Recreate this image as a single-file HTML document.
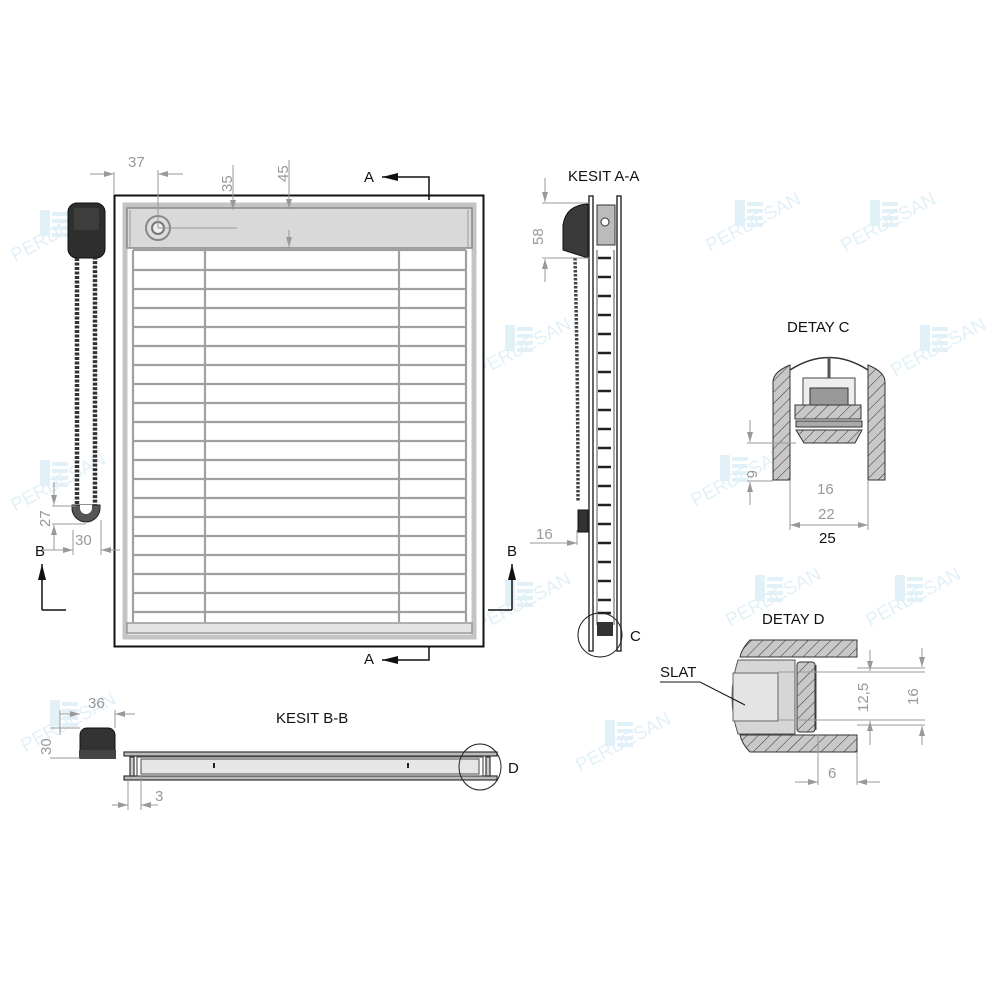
<!DOCTYPE html>
<html><head><meta charset="utf-8"><style>
html,body{margin:0;padding:0;background:#fff}
svg{display:block}
text{font-family:"Liberation Sans",sans-serif}
</style></head><body>
<svg width="1000" height="1000" viewBox="0 0 1000 1000" xmlns="http://www.w3.org/2000/svg">
<defs>
<pattern id="h" width="8" height="8" patternUnits="userSpaceOnUse" patternTransform="rotate(45)">
<rect width="8" height="8" fill="#c8c8c8"/><line x1="0" y1="0" x2="0" y2="8" stroke="#333" stroke-width="1"/>
</pattern>
<g id="wm" fill="#e2f1f7">
<rect x="0" y="0" width="10" height="26"/><rect x="12" y="2" width="16" height="4"/><rect x="12" y="9" width="16" height="4"/><rect x="12" y="16" width="16" height="4"/><rect x="12" y="23" width="16" height="4"/>
<text x="-25" y="52" font-family="Liberation Serif,serif" font-size="19" transform="rotate(-28 -25 52)">PERDESAN</text>
</g>
<marker id="ar" viewBox="0 0 10 6" refX="10" refY="3" markerWidth="10" markerHeight="6" orient="auto-start-reverse" markerUnits="userSpaceOnUse"><path d="M0,0L10,3L0,6z" fill="#999"/></marker>
<marker id="ab" viewBox="0 0 16 8" refX="16" refY="4" markerWidth="16" markerHeight="8" orient="auto" markerUnits="userSpaceOnUse"><path d="M0,4L16,0L16,8z" fill="#111" transform="rotate(180 8 4)"/></marker>
</defs>

<!-- watermarks -->
<use href="#wm" x="735" y="200"/><use href="#wm" x="870" y="200"/>
<use href="#wm" x="505" y="325"/><use href="#wm" x="920" y="325"/>
<use href="#wm" x="720" y="455"/><use href="#wm" x="505" y="580"/>
<use href="#wm" x="755" y="575"/><use href="#wm" x="895" y="575"/>
<use href="#wm" x="605" y="720"/><use href="#wm" x="50" y="700"/>
<use href="#wm" x="40" y="210"/><use href="#wm" x="40" y="460"/>

<!-- MAIN FRONT VIEW -->
<rect x="114.5" y="195.5" width="369" height="451" fill="#fff" stroke="#111" stroke-width="2"/>
<rect x="125" y="205" width="349" height="432" fill="none" stroke="#c4c4c4" stroke-width="5"/>
<rect x="127" y="208" width="345" height="40" fill="#d9d9d9" stroke="#888" stroke-width="1.5"/>
<line x1="130" y1="210" x2="130" y2="247" stroke="#999"/><line x1="468" y1="210" x2="468" y2="247" stroke="#999"/>
<circle cx="158" cy="228" r="12" fill="#ddd" stroke="#888" stroke-width="2"/><circle cx="158" cy="228" r="6" fill="#eee" stroke="#777" stroke-width="2"/>
<g stroke="#a0a0a0" stroke-width="2.2" fill="none">
<line x1="133" y1="250" x2="133" y2="622"/><line x1="466" y1="250" x2="466" y2="622"/>
<line x1="205" y1="250" x2="205" y2="622"/><line x1="399" y1="250" x2="399" y2="622"/>
<line x1="133" y1="250" x2="466" y2="250"/><line x1="133" y1="270" x2="466" y2="270"/><line x1="133" y1="289" x2="466" y2="289"/><line x1="133" y1="308" x2="466" y2="308"/><line x1="133" y1="327" x2="466" y2="327"/><line x1="133" y1="346" x2="466" y2="346"/><line x1="133" y1="365" x2="466" y2="365"/><line x1="133" y1="384" x2="466" y2="384"/><line x1="133" y1="403" x2="466" y2="403"/><line x1="133" y1="422" x2="466" y2="422"/><line x1="133" y1="441" x2="466" y2="441"/><line x1="133" y1="460" x2="466" y2="460"/><line x1="133" y1="479" x2="466" y2="479"/><line x1="133" y1="498" x2="466" y2="498"/><line x1="133" y1="517" x2="466" y2="517"/><line x1="133" y1="536" x2="466" y2="536"/><line x1="133" y1="555" x2="466" y2="555"/><line x1="133" y1="574" x2="466" y2="574"/><line x1="133" y1="593" x2="466" y2="593"/><line x1="133" y1="612" x2="466" y2="612"/>
</g>
<rect x="127" y="623" width="345" height="10" fill="#e4e4e4" stroke="#999" stroke-width="1.5"/>

<!-- dims top -->
<g stroke="#999" stroke-width="1" fill="none">
<line x1="114" y1="172" x2="114" y2="195"/><line x1="158" y1="170" x2="158" y2="228"/>
<line x1="90" y1="174" x2="114" y2="174" marker-end="url(#ar)"/><line x1="183" y1="174" x2="158" y2="174" marker-end="url(#ar)"/>
<line x1="158" y1="228" x2="237" y2="228"/>
<line x1="233" y1="165" x2="233" y2="210" marker-end="url(#ar)"/>
<line x1="289" y1="160" x2="289" y2="209" marker-end="url(#ar)"/><line x1="289" y1="230" x2="289" y2="247" marker-end="url(#ar)"/>
</g>
<g fill="#999" font-size="15"><text x="128" y="167">37</text>
<text transform="translate(232 192) rotate(-90)">35</text><text transform="translate(288 182) rotate(-90)">45</text></g>

<!-- section arrows -->
<g stroke="#111" stroke-width="1.5" fill="none">
<path d="M429 200 V177 H382" marker-end="url(#ab)"/>
<path d="M429 647 V660 H382" marker-end="url(#ab)"/>
<path d="M42 610 H66"/><line x1="42" y1="610" x2="42" y2="564" marker-end="url(#ab)"/>
<path d="M512 610 H488"/><line x1="512" y1="610" x2="512" y2="564" marker-end="url(#ab)"/>
</g>
<g font-size="15" fill="#111"><text x="364" y="182">A</text><text x="364" y="664">A</text><text x="35" y="556">B</text><text x="507" y="556">B</text></g>

<!-- chain control -->
<rect x="68" y="203" width="37" height="55" rx="9" fill="#2e2e2e" stroke="#111"/>
<rect x="74" y="208" width="25" height="22" fill="#3d3d3d"/>
<g stroke="#333" stroke-width="4.5" stroke-dasharray="3 1.5" fill="none">
<path d="M77 258 V508 A9 9 0 0 0 95 508 V258"/>
</g>
<path d="M72 505 H100 V508 A14 14 0 0 1 72 508 Z" fill="#555" stroke="#222"/>
<path d="M80 505 H92 V508 A6 6 0 0 1 80 508Z" fill="#fff"/>
<g stroke="#999" stroke-width="1" fill="none">
<line x1="52" y1="506" x2="76" y2="506"/><line x1="52" y1="524" x2="86" y2="524"/>
<line x1="54" y1="482" x2="54" y2="505" marker-end="url(#ar)"/><line x1="54" y1="550" x2="54" y2="525" marker-end="url(#ar)"/>
<line x1="62" y1="550" x2="73" y2="550" marker-end="url(#ar)"/><line x1="120" y1="550" x2="101" y2="550" marker-end="url(#ar)"/>
<line x1="73" y1="530" x2="73" y2="555"/><line x1="101" y1="520" x2="101" y2="555"/><line x1="42" y1="550" x2="62" y2="550"/>
</g>
<g fill="#999" font-size="15"><text transform="translate(50 527) rotate(-90)">27</text><text x="75" y="545">30</text></g>

<!-- KESIT A-A -->
<text x="568" y="181" font-size="15" fill="#111">KESIT A-A</text>
<g stroke="#333" stroke-width="1.5" fill="#fff">
<rect x="589" y="196" width="4" height="455"/><rect x="617" y="196" width="4" height="455"/>
</g>
<rect x="597" y="205" width="18" height="40" fill="#bbb" stroke="#333"/>
<circle cx="605" cy="222" r="4" fill="#fff" stroke="#333"/>
<line x1="597" y1="250" x2="597" y2="625" stroke="#555"/><line x1="614" y1="250" x2="614" y2="625" stroke="#555"/>
<g stroke="#222" stroke-width="2.5">
<line x1="598" y1="258" x2="611" y2="258"/><line x1="598" y1="277" x2="611" y2="277"/><line x1="598" y1="296" x2="611" y2="296"/><line x1="598" y1="315" x2="611" y2="315"/><line x1="598" y1="334" x2="611" y2="334"/><line x1="598" y1="353" x2="611" y2="353"/><line x1="598" y1="372" x2="611" y2="372"/><line x1="598" y1="391" x2="611" y2="391"/><line x1="598" y1="410" x2="611" y2="410"/><line x1="598" y1="429" x2="611" y2="429"/><line x1="598" y1="448" x2="611" y2="448"/><line x1="598" y1="467" x2="611" y2="467"/><line x1="598" y1="486" x2="611" y2="486"/><line x1="598" y1="505" x2="611" y2="505"/><line x1="598" y1="524" x2="611" y2="524"/><line x1="598" y1="543" x2="611" y2="543"/><line x1="598" y1="562" x2="611" y2="562"/><line x1="598" y1="581" x2="611" y2="581"/><line x1="598" y1="600" x2="611" y2="600"/><line x1="598" y1="613" x2="611" y2="613"/>
</g>
<rect x="597" y="622" width="16" height="14" fill="#333"/>
<path d="M588 204 Q566 205 563 225 V250 L588 258 Z" fill="#3a3a3a" stroke="#111"/>
<path d="M575 258 Q578 380 578 502" stroke="#444" stroke-width="3.5" stroke-dasharray="2.5 1.5" fill="none"/>
<rect x="578" y="510" width="10" height="22" fill="#333" stroke="#111"/>
<circle cx="600" cy="635" r="22" fill="none" stroke="#222"/>
<text x="630" y="641" font-size="15" fill="#111">C</text>
<g stroke="#999" stroke-width="1" fill="none">
<line x1="542" y1="203" x2="590" y2="203"/><line x1="542" y1="258" x2="590" y2="258"/>
<line x1="545" y1="178" x2="545" y2="202" marker-end="url(#ar)"/><line x1="545" y1="282" x2="545" y2="259" marker-end="url(#ar)"/>
<line x1="530" y1="543" x2="577" y2="543" marker-end="url(#ar)"/><line x1="577" y1="530" x2="577" y2="545"/>
</g>
<g fill="#999" font-size="15"><text transform="translate(543 245) rotate(-90)">58</text><text x="536" y="539">16</text></g>

<!-- DETAY C -->
<text x="787" y="332" font-size="15" fill="#111">DETAY C</text>
<path d="M790 370 Q829 345 868 370" fill="none" stroke="#333" stroke-width="1.5"/>
<path d="M773 382 Q773 372 790 365 V480 H773 Z" fill="url(#h)" stroke="#333"/>
<path d="M885 382 Q885 372 868 365 V480 H885 Z" fill="url(#h)" stroke="#333"/>
<line x1="829" y1="357" x2="829" y2="415" stroke="#555" stroke-width="3"/>
<rect x="803" y="378" width="52" height="40" fill="#eee" stroke="#444"/>
<rect x="810" y="388" width="38" height="25" fill="#999" stroke="#333"/>
<rect x="795" y="405" width="66" height="14" fill="url(#h)" stroke="#333"/>
<rect x="796" y="421" width="66" height="6" fill="#aaa" stroke="#333"/>
<path d="M796 430 H862 L855 443 H804 Z" fill="url(#h)" stroke="#333"/>
<g stroke="#999" stroke-width="1" fill="none">
<line x1="747" y1="443" x2="796" y2="443"/><line x1="747" y1="481" x2="773" y2="481"/>
<line x1="750" y1="420" x2="750" y2="442" marker-end="url(#ar)"/><line x1="750" y1="505" x2="750" y2="482" marker-end="url(#ar)"/>
<line x1="790" y1="480" x2="790" y2="530"/><line x1="868" y1="480" x2="868" y2="530"/>
<line x1="829" y1="525" x2="790" y2="525" marker-end="url(#ar)"/><line x1="829" y1="525" x2="868" y2="525" marker-end="url(#ar)"/>
</g>
<g fill="#999" font-size="15"><text transform="translate(747 470) rotate(90)">6</text><text x="817" y="494">16</text><text x="818" y="519">22</text></g>
<text x="819" y="543" font-size="15" fill="#111">25</text>

<!-- DETAY D -->
<text x="762" y="624" font-size="15" fill="#111">DETAY D</text>
<path d="M750 640 H857 V657 H740 Q742 648 750 640Z" fill="url(#h)" stroke="#333"/>
<path d="M740 735 H857 V752 H750 Q742 744 740 735Z" fill="url(#h)" stroke="#333"/>
<path d="M738 660 H795 V734 H738 Q726 697 738 660Z" fill="#d6d6d6" stroke="#555"/>
<rect x="733" y="673" width="45" height="48" fill="#e4e4e4" stroke="#666"/>
<rect x="797" y="662" width="18" height="70" rx="3" fill="url(#h)" stroke="#333"/>
<line x1="816" y1="665" x2="816" y2="730" stroke="#444"/>
<text x="660" y="677" font-size="15" fill="#111">SLAT</text>
<path d="M660 682 H700 L745 705" fill="none" stroke="#111"/>
<g stroke="#999" stroke-width="1" fill="none">
<line x1="778" y1="672" x2="925" y2="672"/><line x1="778" y1="720" x2="925" y2="720"/>
<line x1="857" y1="668" x2="925" y2="668"/><line x1="857" y1="725" x2="925" y2="725"/>
<line x1="870" y1="650" x2="870" y2="671" marker-end="url(#ar)"/><line x1="870" y1="745" x2="870" y2="721" marker-end="url(#ar)"/>
<line x1="922" y1="648" x2="922" y2="667" marker-end="url(#ar)"/><line x1="922" y1="745" x2="922" y2="726" marker-end="url(#ar)"/>
<line x1="818" y1="735" x2="818" y2="785"/><line x1="857" y1="752" x2="857" y2="785"/>
<line x1="795" y1="782" x2="818" y2="782" marker-end="url(#ar)"/><line x1="880" y1="782" x2="857" y2="782" marker-end="url(#ar)"/>
</g>
<g fill="#999" font-size="15"><text transform="translate(868 712) rotate(-90)">12,5</text><text transform="translate(918 705) rotate(-90)">16</text><text x="828" y="778">6</text></g>

<!-- KESIT B-B -->
<text x="276" y="723" font-size="15" fill="#111">KESIT B-B</text>
<rect x="80" y="728" width="35" height="30" rx="7" fill="#333" stroke="#111"/>
<rect x="79" y="750" width="37" height="9" fill="#444"/>
<g stroke="#333" stroke-width="1.2">
<rect x="124" y="752" width="373" height="4" fill="#bbb"/><rect x="124" y="776" width="373" height="4" fill="#bbb"/>
<rect x="137" y="757" width="346" height="19" fill="#fff" stroke="#555"/>
<rect x="141" y="759" width="338" height="15" fill="#e6e6e6" stroke="#666"/>
<rect x="130" y="757" width="4" height="19" fill="#ccc"/><rect x="486" y="757" width="4" height="19" fill="#ccc"/>
</g>
<line x1="214" y1="763" x2="214" y2="768" stroke="#222" stroke-width="2"/><line x1="408" y1="763" x2="408" y2="768" stroke="#222" stroke-width="2"/>
<ellipse cx="480" cy="767" rx="21" ry="23" fill="none" stroke="#222"/>
<text x="508" y="773" font-size="15" fill="#111">D</text>
<g stroke="#999" stroke-width="1" fill="none">
<line x1="60" y1="710" x2="60" y2="735"/><line x1="115" y1="710" x2="115" y2="728"/>
<line x1="60" y1="714" x2="80" y2="714" marker-end="url(#ar)"/><line x1="135" y1="714" x2="115" y2="714" marker-end="url(#ar)"/>
<line x1="50" y1="728" x2="80" y2="728"/><line x1="50" y1="758" x2="80" y2="758"/>
<line x1="128" y1="780" x2="128" y2="810"/><line x1="141" y1="776" x2="141" y2="810"/>
<line x1="112" y1="805" x2="128" y2="805" marker-end="url(#ar)"/><line x1="158" y1="805" x2="141" y2="805" marker-end="url(#ar)"/>
</g>
<g fill="#999" font-size="15"><text x="88" y="708">36</text><text transform="translate(51 755) rotate(-90)">30</text><text x="155" y="801">3</text></g>
</svg>
</body></html>
